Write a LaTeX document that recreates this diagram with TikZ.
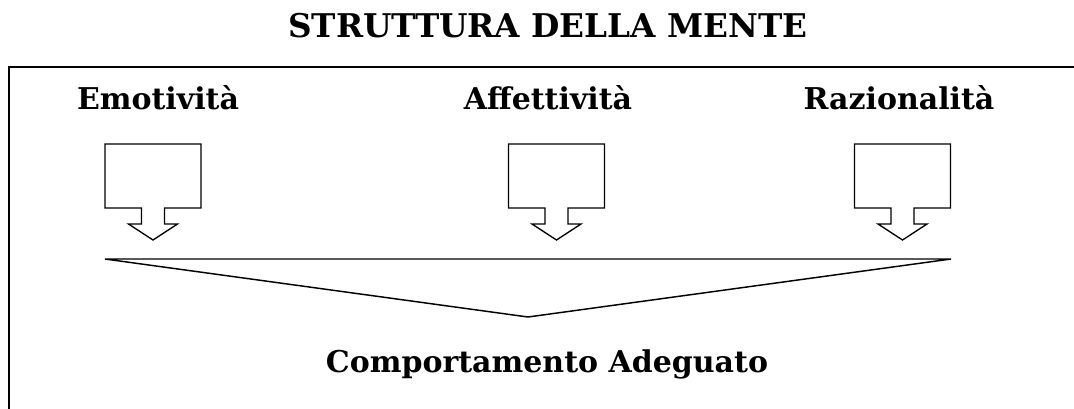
\documentclass[tikz,border=0pt]{standalone}
\usepackage{fontspec}
\setmainfont{DejaVu Serif}
\begin{document}
\begin{tikzpicture}[x=0.75pt,y=-0.75pt,
  framestyle/.style={line width=1.4pt,black},
  arrowline/.style={line width=1.0pt,black,line join=miter},
  funnel/.style={line width=1.1pt,black,line join=miter},
  titletext/.style={font=\fontsize{24.5}{28}\selectfont\bfseries,anchor=base,inner sep=0pt},
  labeltext/.style={font=\fontsize{22.5}{26}\selectfont\bfseries,anchor=base,inner sep=0pt},
  blockarrow/.pic={\draw[arrowline] (-48,0) -- (48,0) -- (48,64) -- (11.5,64) -- (11.5,80) -- (24.5,80) -- (0,96) -- (-24.5,80) -- (-11.5,80) -- (-11.5,64) -- (-48,64) -- cycle;}]
\useasboundingbox (0,0) rectangle (1074,408);
\begin{scope}
  \clip (0,0) rectangle (1074,408);
  \draw[framestyle] (9,420) -- (9,67) -- (1090,67);
\end{scope}
\node[titletext] (title) at (548,37) {STRUTTURA DELLA MENTE};
\node[labeltext] (emo) at (158,109) {Emotività};
\node[labeltext] (aff) at (548,109) {Affettività};
\node[labeltext] (raz) at (899,109) {Razionalità};
\pic (a1) at (153,144) {blockarrow};
\pic (a2) at (556.5,144) {blockarrow};
\pic (a3) at (902.5,144) {blockarrow};
\coordinate (fl) at (105,259);
\coordinate (fr) at (951,259);
\coordinate (fa) at (528,317);
\draw[funnel] (fl) -- (fr) -- (fa) -- cycle;
\node[labeltext] (comp) at (547,372) {Comportamento Adeguato};
\end{tikzpicture}
\end{document}
